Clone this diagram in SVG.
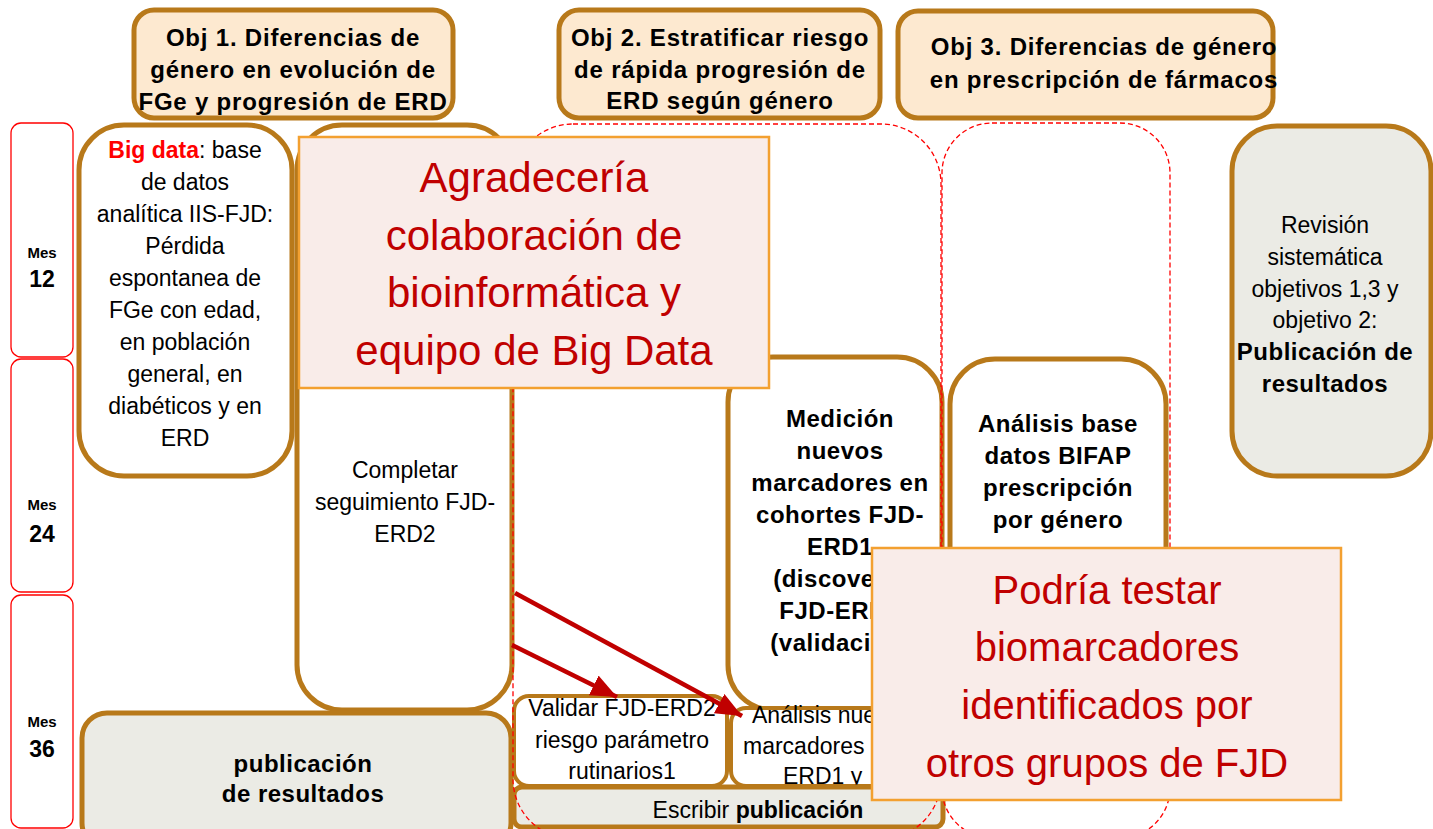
<svg xmlns="http://www.w3.org/2000/svg" width="1433" height="829" viewBox="0 0 1433 829">
<defs>
<style>
text{font-family:"Liberation Sans",Arial,sans-serif;fill:#000;text-anchor:middle}
.reg{font-size:23px}
.bold{font-size:24px;font-weight:bold;letter-spacing:0.5px}
.obj{font-size:24px;font-weight:bold;letter-spacing:0.8px}
.mes{font-size:15px;font-weight:bold}
.num{font-size:23px;font-weight:bold}
.big{font-size:42px;fill:#c00000}
.big2{font-size:40px;fill:#c00000}
.objbox{fill:#fde9d0;stroke:#b8791a;stroke-width:5}
.box{fill:#fff;stroke:#b8791a;stroke-width:5}
.sbox{fill:#fff;stroke:#b8791a;stroke-width:4}
.gbox{fill:#ebebe5;stroke:#b8791a;stroke-width:5}
.mesbox{fill:#fff;stroke:#ff0000;stroke-width:1.3}
.dash{fill:none;stroke:#ff0000;stroke-width:1.3;stroke-dasharray:5 3}
.call{fill:#f9ece9;stroke:#f3a030;stroke-width:2.5}
.arrow{stroke:#c00000;stroke-width:4.5;fill:none}
</style>
<marker id="ah" markerUnits="userSpaceOnUse" markerWidth="28" markerHeight="24" refX="26" refY="11" orient="auto">
<path d="M0,0 L26,11 L0,22 z" fill="#c00000"/>
</marker>
</defs>
<rect width="1433" height="829" fill="#fff"/>

<g id="mes12"><rect class="mesbox" x="11" y="123" width="62" height="234" rx="10"/><text class="mes" x="42" y="258">Mes</text><text class="num" x="42" y="287">12</text></g>
<g id="mes24"><rect class="mesbox" x="11" y="359" width="62" height="233" rx="10"/><text class="mes" x="42" y="510">Mes</text><text class="num" x="42" y="542">24</text></g>
<g id="mes36"><rect class="mesbox" x="11" y="595" width="62" height="233" rx="10"/><text class="mes" x="42" y="727">Mes</text><text class="num" x="42" y="757">36</text></g>

<g id="obj1"><rect class="objbox" x="134" y="10" width="319" height="108" rx="20"/>
<text class="obj" x="293" y="46">Obj 1. Diferencias de</text><text class="obj" x="293" y="78">género en evolución de</text><text class="obj" x="293" y="110">FGe y progresión de ERD</text></g>
<g id="obj2"><rect class="objbox" x="559" y="10" width="321" height="108" rx="20"/>
<text class="obj" x="720" y="46">Obj 2. Estratificar riesgo</text><text class="obj" x="720" y="78">de rápida progresión de</text><text class="obj" x="720" y="109">ERD según género</text></g>
<g id="obj3"><rect class="objbox" x="898" y="11" width="375" height="107" rx="20"/>
<text class="obj" x="1104" y="55">Obj 3. Diferencias de género</text><text class="obj" x="1104" y="88">en prescripción de fármacos</text></g>

<g id="bigdata"><rect class="box" x="79" y="125" width="213" height="351" rx="45"/>
<text class="reg" x="185" y="158"><tspan fill="#ff0000" font-weight="bold">Big data</tspan>: base</text>
<text class="reg" x="185" y="190">de datos</text>
<text class="reg" x="185" y="222">analítica IIS-FJD:</text>
<text class="reg" x="185" y="254">Pérdida</text>
<text class="reg" x="185" y="286">espontanea de</text>
<text class="reg" x="185" y="318">FGe con edad,</text>
<text class="reg" x="185" y="350">en población</text>
<text class="reg" x="185" y="382">general, en</text>
<text class="reg" x="185" y="414">diabéticos y en</text>
<text class="reg" x="185" y="446">ERD</text></g>

<g id="completar"><rect class="box" x="297" y="125" width="215" height="585" rx="45"/>
<text class="reg" x="405" y="478">Completar</text><text class="reg" x="405" y="510">seguimiento FJD-</text><text class="reg" x="405" y="542">ERD2</text></g>

<g id="medicion"><rect class="box" x="728" y="357" width="214" height="353" rx="45"/>
<text class="bold" x="840" y="427">Medición</text>
<text class="bold" x="840" y="459">nuevos</text>
<text class="bold" x="840" y="491">marcadores en</text>
<text class="bold" x="840" y="523">cohortes FJD-</text>
<text class="bold" x="840" y="555">ERD1</text>
<text class="bold" x="840" y="587">(discovery)</text>
<text class="bold" x="840" y="619">FJD-ERD2</text>
<text class="bold" x="840" y="651">(validación)</text></g>

<g id="bifap"><rect class="box" x="950" y="359" width="216" height="420" rx="45"/>
<text class="bold" x="1058" y="432">Análisis base</text><text class="bold" x="1058" y="464">datos BIFAP</text><text class="bold" x="1058" y="496">prescripción</text><text class="bold" x="1058" y="528">por género</text></g>

<g id="revision"><rect class="gbox" x="1232" y="126" width="199" height="350" rx="45"/>
<text class="reg" x="1325" y="233">Revisión</text><text class="reg" x="1325" y="265">sistemática</text><text class="reg" x="1325" y="297">objetivos 1,3 y</text><text class="reg" x="1325" y="328">objetivo 2:</text>
<text class="bold" x="1325" y="360">Publicación de</text><text class="bold" x="1325" y="392">resultados</text></g>

<g id="pubres"><rect class="gbox" x="82" y="713" width="429" height="135" rx="25"/>
<text class="bold" x="303" y="772">publicación</text><text class="bold" x="303" y="802">de resultados</text></g>

<g id="validar"><rect class="sbox" x="514" y="696" width="213" height="90" rx="15"/>
<text class="reg" x="622" y="716">Validar FJD-ERD2</text><text class="reg" x="622" y="748">riesgo parámetro</text><text class="reg" x="622" y="779">rutinarios1</text></g>

<g id="analisis"><rect class="sbox" x="731" y="708" width="212" height="78" rx="15"/>
<text class="reg" x="752" y="723" style="text-anchor:start">Análisis nuevos</text><text class="reg" x="743" y="754" style="text-anchor:start">marcadores en</text><text class="reg" x="783" y="784" style="text-anchor:start">ERD1 y</text></g>

<g id="escribir"><rect class="gbox" x="514" y="787" width="429" height="40" rx="8" stroke-width="4"/>
<text class="reg" x="758" y="818">Escribir <tspan font-weight="bold">publicación</tspan></text></g>

<g id="grupos"><rect class="dash" x="513" y="124" width="428" height="715" rx="60"/><rect class="dash" x="942" y="123" width="228" height="715" rx="50"/></g>

<g id="connectors">
<line class="arrow" x1="515" y1="593" x2="742" y2="716" marker-end="url(#ah)"/>
<line class="arrow" x1="512" y1="645" x2="617" y2="697" marker-end="url(#ah)"/>
</g>

<g id="callout1"><rect class="call" x="299" y="137" width="470" height="251"/>
<text class="big" x="534" y="192">Agradecería</text><text class="big" x="534" y="250">colaboración de</text><text class="big" x="534" y="307">bioinformática y</text><text class="big" x="534" y="365">equipo de Big Data</text></g>

<g id="callout2"><rect class="call" x="872" y="548" width="469" height="252"/>
<text class="big2" x="1107" y="604">Podría testar</text><text class="big2" x="1107" y="661">biomarcadores</text><text class="big2" x="1107" y="719">identificados por</text><text class="big2" x="1107" y="777">otros grupos de FJD</text></g>
</svg>
